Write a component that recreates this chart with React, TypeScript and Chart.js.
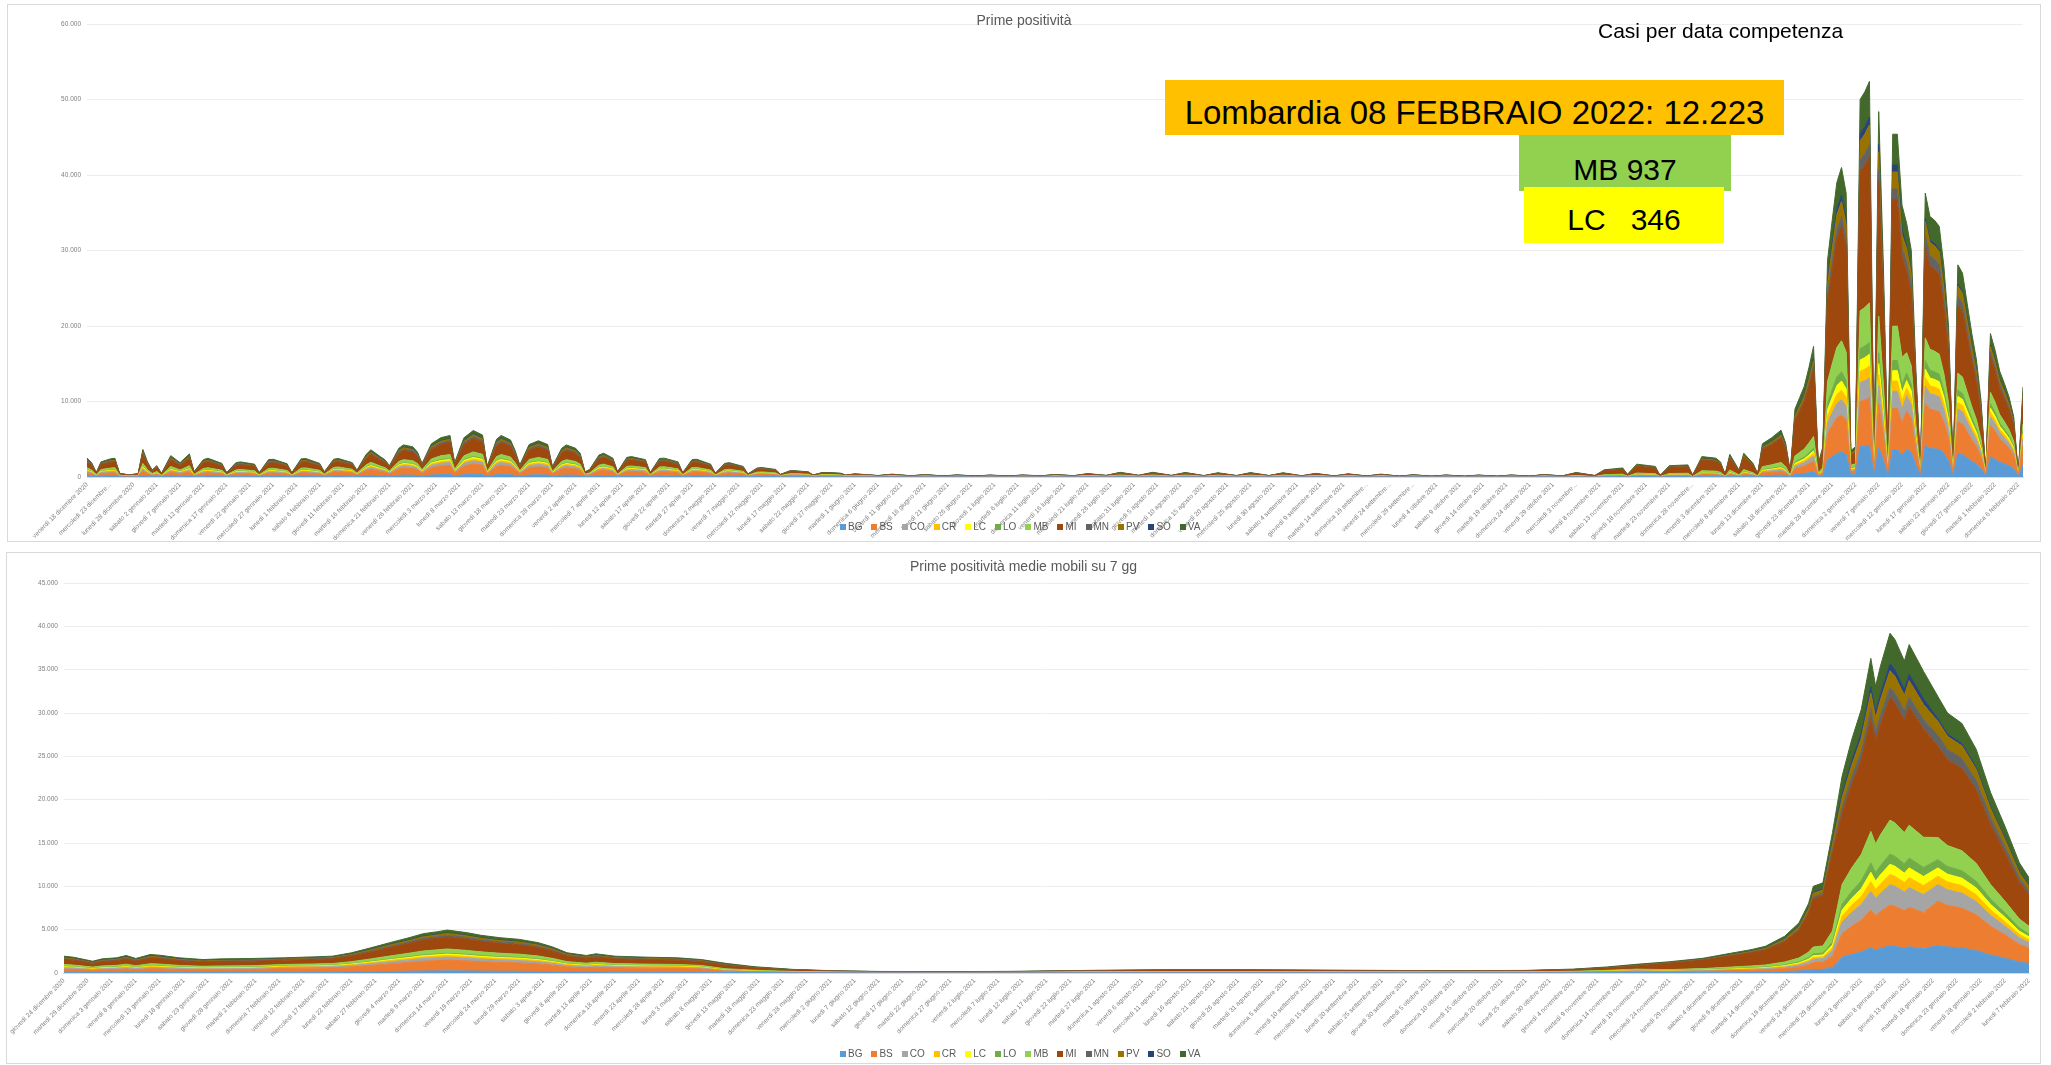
import { useEffect, useRef } from "react";
import { Chart, registerables } from "chart.js";
Chart.register(...registerables);

const PROVINCES = ["BG", "BS", "CO", "CR", "LC", "LO", "MB", "MI", "MN", "PV", "SO", "VA"];
const COLORS = ["#5B9BD5", "#ED7D31", "#A5A5A5", "#FFC000", "#FFFF00", "#70AD47", "#92D050", "#9E480E", "#636363", "#997300", "#264478", "#43682B"];

// ---------- "Prime positività" (daily, day index from venerdì 18 dicembre 2020) ----------
const TOP_DAYS = [
  0,1,2,3,5,6,7,9,11,12,13,14,15,16,18,20,22,23,25,26,29,30,32,33,36,37,39,40,43,44,46,47,50,
  51,53,54,57,58,60,61,63,64,65,67,68,70,71,72,74,76,78,79,81,83,85,86,88,89,91,92,93,95,97,99,100,102,103,105,106,107,108,110,111,113,114,116,117,120,121,123,124,127,128,130,131,134,135,137,138,141,142,144,145,148,149,151,152,155,156,158,159,162,163,165,
  170,173,177,180,184,187,191,194,198,201,205,208,212,215,219,222,226,229,233,236,240,243,247,250,254,257,261,264,268,271,275,278,282,285,289,292,296,299,303,306,310,313,317,
  320,324,326,330,331,333,337,338,340,344,345,347,350,351,352,353,355,356,358,359,360,362,364,365,366,367,368,369,370,371,372,373,
  374,375,376,377,378,379,380,381,382,383,384,385,386,387,388,389,390,
  391,392,393,394,395,396,397,398,399,400,401,402,403,404,405,406,407,
  408,409,410,411,412,413,414,415,416,
];
const TOP_BG = [
  125,95,30,100,120,124,25,14,22,182,100,46,75,24,141,95,152,35,115,124,90,29,95,100,85,29,115,117,87,29,120,122,90,
  42,141,147,114,54,180,216,162,138,90,228,255,240,198,108,264,312,330,114,312,369,333,84,300,330,294,210,96,258,288,258,84,228,255,228,186,42,60,174,189,150,42,156,162,138,35,147,150,120,35,138,141,102,30,108,114,84,24,72,75,60,21,49,50,41,16,36,36,30,15,25,
  12,23,10,19,9,17,8,16,8,16,10,20,11,27,13,37,14,37,13,36,11,34,12,35,12,34,10,29,9,25,8,23,7,18,7,16,7,16,7,16,7,20,9,
  24,8,38,48,14,68,56,8,60,64,10,108,100,80,14,120,36,126,72,18,176,208,248,180,26,360,420,480,580,692,72,160,
  2296,2720,3120,3280,3008,280,320,4000,4080,4192,144,3872,2240,144,3632,3632,2880,
  3696,3300,1540,99,4136,3795,3740,3652,3069,2200,99,3091,2970,2530,2090,1705,1100,
  62,2660,2352,1960,1736,1484,1120,35,1673,
];
const TOP_BS = [
  425,323,102,340,408,422,85,48,77,621,340,158,255,83,481,323,519,119,391,422,306,99,323,340,289,99,391,400,298,99,408,417,306,
  154,517,539,418,198,660,792,594,506,330,836,935,880,726,396,968,1144,1210,418,1144,1353,1221,308,1100,1210,1078,770,352,946,1056,946,308,836,935,836,682,154,220,638,693,550,154,572,594,506,128,539,550,440,128,506,517,374,110,396,418,308,88,264,275,220,77,180,185,150,59,132,132,110,55,92,
  26,49,22,42,20,36,18,34,18,35,21,44,23,59,29,81,30,81,29,78,25,73,26,75,26,73,22,62,20,55,18,49,16,39,14,35,14,34,14,35,16,43,20,
  48,16,76,96,28,136,112,16,120,128,20,216,200,160,28,240,72,252,144,36,352,416,496,360,52,720,840,960,1160,1384,144,320,
  3444,4080,4680,4920,4512,420,480,6000,6120,6288,216,5808,3360,216,5448,5448,4320,
  5040,4500,2100,135,5640,5175,5100,4980,4185,3000,135,4215,4050,3450,2850,2325,1500,
  97,4180,3696,3080,2728,2332,1760,55,2629,
];
const TOP_CO = [
  175,133,42,140,168,174,35,20,32,256,140,65,105,34,198,133,214,49,161,174,126,41,133,140,119,41,161,165,123,41,168,172,126,
  49,165,172,133,63,210,252,189,161,105,266,298,280,231,126,308,364,385,133,364,431,389,98,350,385,343,245,112,301,336,301,98,266,298,266,217,49,70,203,221,175,49,182,189,161,41,172,175,140,41,161,165,119,35,126,133,98,28,84,88,70,25,57,59,48,19,42,42,35,18,29,
  12,23,10,19,9,17,8,16,8,16,10,20,11,27,13,37,14,37,13,36,11,34,12,35,12,34,10,29,9,25,8,23,7,18,7,16,7,16,7,16,7,20,9,
  24,8,38,48,14,68,56,8,60,64,10,108,100,80,14,120,36,126,72,18,176,208,248,180,26,360,420,480,580,692,72,160,
  1435,1700,1950,2050,1880,175,200,2500,2550,2620,90,2420,1400,90,2270,2270,1800,
  2016,1800,840,54,2256,2070,2040,1992,1674,1200,54,1686,1620,1380,1140,930,600,
  26,1140,1008,840,744,636,480,15,717,
];
const TOP_CR = [
  100,76,24,80,96,99,20,11,18,146,80,37,60,20,113,76,122,28,92,99,72,23,76,80,68,23,92,94,70,23,96,98,72,
  28,94,98,76,36,120,144,108,92,60,152,170,160,132,72,176,208,220,76,208,246,222,56,200,220,196,140,64,172,192,172,56,152,170,152,124,28,40,116,126,100,28,104,108,92,23,98,100,80,23,92,94,68,20,72,76,56,16,48,50,40,14,33,34,27,11,24,24,20,10,17,
  6,11,5,10,5,8,4,8,4,8,5,10,5,14,7,19,7,19,7,18,6,17,6,17,6,17,5,14,5,13,4,11,4,9,3,8,3,8,3,8,4,10,5,
  12,4,19,24,7,34,28,4,30,32,5,54,50,40,7,60,18,63,36,9,88,104,124,90,13,180,210,240,290,346,36,80,
  861,1020,1170,1230,1128,105,120,1500,1530,1572,54,1452,840,54,1362,1362,1080,
  1008,900,420,27,1128,1035,1020,996,837,600,27,843,810,690,570,465,300,
  13,570,504,420,372,318,240,8,359,
];
const TOP_LC = [
  75,57,18,60,72,74,15,8,14,110,60,28,45,15,85,57,92,21,69,74,54,17,57,60,51,17,69,71,53,17,72,74,54,
  21,71,74,57,27,90,108,81,69,45,114,128,120,99,54,132,156,165,57,156,185,167,42,150,165,147,105,48,129,144,129,42,114,128,114,93,21,30,87,95,75,21,78,81,69,17,74,75,60,17,69,71,51,15,54,57,42,12,36,38,30,11,25,25,20,8,18,18,15,8,13,
  6,11,5,10,5,8,4,8,4,8,5,10,5,14,7,19,7,19,7,18,6,17,6,17,6,17,5,14,5,13,4,11,4,9,3,8,3,8,3,8,4,10,5,
  12,4,19,24,7,34,28,4,30,32,5,54,50,40,7,60,18,63,36,9,88,104,124,90,13,180,210,240,290,346,36,80,
  861,1020,1170,1230,1128,105,120,1500,1530,1572,54,1452,840,54,1362,1362,1080,
  1008,900,420,27,1128,1035,1020,996,837,600,27,843,810,690,570,465,300,
  13,570,504,420,372,318,240,8,346,
];
const TOP_LO = [
  50,38,12,40,48,50,10,6,9,73,40,19,30,10,57,38,61,14,46,50,36,12,38,40,34,12,46,47,35,12,48,49,36,
  14,47,49,38,18,60,72,54,46,30,76,85,80,66,36,88,104,110,38,104,123,111,28,100,110,98,70,32,86,96,86,28,76,85,76,62,14,20,58,63,50,14,52,54,46,12,49,50,40,12,46,47,34,10,36,38,28,8,24,25,20,7,16,17,14,5,12,12,10,5,8,
  4,8,3,6,3,6,3,5,3,5,3,7,4,9,4,12,5,12,4,12,4,11,4,12,4,11,3,10,3,8,3,8,2,6,2,5,2,5,2,5,2,7,3,
  12,4,19,24,7,34,28,4,30,32,5,54,50,40,7,60,18,63,36,9,88,104,124,90,13,180,210,240,290,346,36,80,
  861,1020,1170,1230,1128,105,120,1500,1530,1572,54,1452,840,54,1362,1362,1080,
  1008,900,420,27,1128,1035,1020,996,837,600,27,843,810,690,570,465,300,
  13,570,504,420,372,318,240,8,359,
];
const TOP_MB = [
  275,209,66,220,264,273,55,31,50,402,220,102,165,54,311,209,336,77,253,273,198,64,209,220,187,64,253,259,193,64,264,270,198,
  70,235,245,190,90,300,360,270,230,150,380,425,400,330,180,440,520,550,190,520,615,555,140,500,550,490,350,160,430,480,430,140,380,425,380,310,70,100,290,315,250,70,260,270,230,58,245,250,200,58,230,235,170,50,180,190,140,40,120,125,100,35,82,84,68,27,60,60,50,25,42,
  22,42,19,35,17,31,15,29,15,30,18,37,20,50,24,68,25,68,24,66,21,62,22,64,22,62,19,53,17,46,15,42,13,33,12,30,12,29,12,30,13,36,17,
  54,18,86,108,32,153,126,18,135,144,23,243,225,180,32,270,81,284,162,41,396,468,558,405,59,810,945,1080,1305,1557,162,360,
  2870,3400,3900,4100,3760,350,400,5000,5100,5240,180,4840,2800,180,4540,4540,3600,
  2688,2400,1120,72,3008,2760,2720,2656,2232,1600,72,2248,2160,1840,1520,1240,800,
  35,1520,1344,1120,992,848,640,20,937,
];
const TOP_MI = [
  800,608,192,640,768,794,160,90,144,1168,640,298,480,157,906,608,976,224,736,794,576,186,608,640,544,186,736,752,560,186,768,784,576,
  203,682,711,551,261,870,1044,783,667,435,1102,1233,1160,957,522,1276,1508,1595,551,1508,1784,1610,406,1450,1595,1421,1015,464,1247,1392,1247,406,1102,1233,1102,899,203,290,841,914,725,203,754,783,667,168,711,725,580,168,667,682,493,145,522,551,406,116,348,363,290,102,238,244,197,78,174,174,145,73,122,
  68,129,58,109,51,95,48,88,48,92,54,116,61,153,75,211,78,211,75,204,65,190,68,197,68,190,58,163,51,143,48,129,41,102,37,92,37,88,37,92,41,112,51,
  312,104,494,624,182,884,728,104,780,832,130,1404,1300,1040,182,1560,468,1638,936,234,2288,2704,3224,2340,338,4680,5460,6240,7540,8996,936,2080,
  10619,12580,14430,15170,13912,1295,1480,18500,18870,19388,666,17908,10360,666,16798,16798,13320,
  10752,9600,4480,288,12032,11040,10880,10624,8928,6400,288,8992,8640,7360,6080,4960,3200,
  110,4750,4200,3500,3100,2650,2000,63,2988,
];
const TOP_MN = [
  100,76,24,80,96,99,20,11,18,146,80,37,60,20,113,76,122,28,92,99,72,23,76,80,68,23,92,94,70,23,96,98,72,
  28,94,98,76,36,120,144,108,92,60,152,170,160,132,72,176,208,220,76,208,246,222,56,200,220,196,140,64,172,192,172,56,152,170,152,124,28,40,116,126,100,28,104,108,92,23,98,100,80,23,92,94,68,20,72,76,56,16,48,50,40,14,33,34,27,11,24,24,20,10,17,
  8,15,7,13,6,11,6,10,6,11,6,14,7,18,9,25,9,25,9,24,8,22,8,23,8,22,7,19,6,17,6,15,5,12,4,11,4,10,4,11,5,13,6,
  12,4,19,24,7,34,28,4,30,32,5,54,50,40,7,60,18,63,36,9,88,104,124,90,13,180,210,240,290,346,36,80,
  861,1020,1170,1230,1128,105,120,1500,1530,1572,54,1452,840,54,1362,1362,1080,
  1344,1200,560,36,1504,1380,1360,1328,1116,800,36,1124,1080,920,760,620,400,
  13,570,504,420,372,318,240,8,359,
];
const TOP_PV = [
  125,95,30,100,120,124,25,14,22,182,100,46,75,24,141,95,152,35,115,124,90,29,95,100,85,29,115,117,87,29,120,122,90,
  28,94,98,76,36,120,144,108,92,60,152,170,160,132,72,176,208,220,76,208,246,222,56,200,220,196,140,64,172,192,172,56,152,170,152,124,28,40,116,126,100,28,104,108,92,23,98,100,80,23,92,94,68,20,72,76,56,16,48,50,40,14,33,34,27,11,24,24,20,10,17,
  12,23,10,19,9,17,8,16,8,16,10,20,11,27,13,37,14,37,13,36,11,34,12,35,12,34,10,29,9,25,8,23,7,18,7,16,7,16,7,16,7,20,9,
  24,8,38,48,14,68,56,8,60,64,10,108,100,80,14,120,36,126,72,18,176,208,248,180,26,360,420,480,580,692,72,160,
  1435,1700,1950,2050,1880,175,200,2500,2550,2620,90,2420,1400,90,2270,2270,1800,
  1680,1500,700,45,1880,1725,1700,1660,1395,1000,45,1405,1350,1150,950,775,500,
  18,760,672,560,496,424,320,10,478,
];
const TOP_SO = [
  50,38,12,40,48,50,10,6,9,73,40,19,30,10,57,38,61,14,46,50,36,12,38,40,34,12,46,47,35,12,48,49,36,
  7,24,25,19,9,30,36,27,23,15,38,43,40,33,18,44,52,55,19,52,62,56,14,50,55,49,35,16,43,48,43,14,38,43,38,31,7,10,29,32,25,7,26,27,23,6,25,25,20,6,23,24,17,5,18,19,14,4,12,13,10,4,8,8,7,3,6,6,5,3,4,
  4,8,3,6,3,6,3,5,3,5,3,7,4,9,4,12,5,12,4,12,4,11,4,12,4,11,3,10,3,8,3,8,2,6,2,5,2,5,2,5,2,7,3,
  6,2,10,12,4,17,14,2,15,16,3,27,25,20,4,30,9,32,18,5,44,52,62,45,7,90,105,120,145,173,18,40,
  574,680,780,820,752,70,80,1000,1020,1048,36,968,560,36,908,908,720,
  336,300,140,9,376,345,340,332,279,200,9,281,270,230,190,155,100,
  4,190,168,140,124,106,80,3,120,
];
const TOP_VA = [
  200,152,48,160,192,198,40,22,36,292,160,74,120,39,226,152,244,56,184,198,144,46,152,160,136,46,184,188,140,46,192,196,144,
  56,188,196,152,72,240,288,216,184,120,304,340,320,264,144,352,416,440,152,416,492,444,112,400,440,392,280,128,344,384,344,112,304,340,304,248,56,80,232,252,200,56,208,216,184,46,196,200,160,46,184,188,136,40,144,152,112,32,96,100,80,28,66,67,54,22,48,48,40,20,34,
  20,38,17,32,15,28,14,26,14,27,16,34,18,45,22,62,23,62,22,60,19,56,20,58,20,56,17,48,15,42,14,38,12,30,11,27,11,26,11,27,12,33,15,
  60,20,95,120,35,170,140,20,150,160,25,270,250,200,35,300,90,315,180,45,440,520,620,450,65,900,1050,1200,1450,1730,180,400,
  2583,3060,3510,3690,3384,315,360,4500,4590,4716,162,4356,2520,162,4086,4086,3240,
  3024,2700,1260,81,3384,3105,3060,2988,2511,1800,81,2529,2430,2070,1710,1395,900,
  35,1520,1344,1120,992,848,640,20,956,
];
const TOP_TICK_LABELS = [
  "venerdì 18 dicembre 2020","mercoledì 23 dicembre...","lunedì 28 dicembre 2020","sabato 2 gennaio 2021","giovedì 7 gennaio 2021",
  "martedì 12 gennaio 2021","domenica 17 gennaio 2021","venerdì 22 gennaio 2021","mercoledì 27 gennaio 2021","lunedì 1 febbraio 2021",
  "sabato 6 febbraio 2021","giovedì 11 febbraio 2021","martedì 16 febbraio 2021","domenica 21 febbraio 2021","venerdì 26 febbraio 2021",
  "mercoledì 3 marzo 2021","lunedì 8 marzo 2021","sabato 13 marzo 2021","giovedì 18 marzo 2021","martedì 23 marzo 2021",
  "domenica 28 marzo 2021","venerdì 2 aprile 2021","mercoledì 7 aprile 2021","lunedì 12 aprile 2021","sabato 17 aprile 2021",
  "giovedì 22 aprile 2021","martedì 27 aprile 2021","domenica 2 maggio 2021","venerdì 7 maggio 2021","mercoledì 12 maggio 2021",
  "lunedì 17 maggio 2021","sabato 22 maggio 2021","giovedì 27 maggio 2021","martedì 1 giugno 2021","domenica 6 giugno 2021",
  "venerdì 11 giugno 2021","mercoledì 16 giugno 2021","lunedì 21 giugno 2021","sabato 26 giugno 2021","giovedì 1 luglio 2021",
  "martedì 6 luglio 2021","domenica 11 luglio 2021","venerdì 16 luglio 2021","mercoledì 21 luglio 2021","lunedì 26 luglio 2021",
  "sabato 31 luglio 2021","giovedì 5 agosto 2021","martedì 10 agosto 2021","domenica 15 agosto 2021","venerdì 20 agosto 2021",
  "mercoledì 25 agosto 2021","lunedì 30 agosto 2021","sabato 4 settembre 2021","giovedì 9 settembre 2021","martedì 14 settembre 2021",
  "domenica 19 settembre...","venerdì 24 settembre...","mercoledì 29 settembre...","lunedì 4 ottobre 2021","sabato 9 ottobre 2021",
  "giovedì 14 ottobre 2021","martedì 19 ottobre 2021","domenica 24 ottobre 2021","venerdì 29 ottobre 2021","mercoledì 3 novembre...",
  "lunedì 8 novembre 2021","sabato 13 novembre 2021","giovedì 18 novembre 2021","martedì 23 novembre 2021","domenica 28 novembre...",
  "venerdì 3 dicembre 2021","mercoledì 8 dicembre 2021","lunedì 13 dicembre 2021","sabato 18 dicembre 2021","giovedì 23 dicembre 2021",
  "martedì 28 dicembre 2021","domenica 2 gennaio 2022","venerdì 7 gennaio 2022","mercoledì 12 gennaio 2022","lunedì 17 gennaio 2022",
  "sabato 22 gennaio 2022","giovedì 27 gennaio 2022","martedì 1 febbraio 2022","domenica 6 febbraio 2022",
];

// ---------- "Prime positività medie mobili su 7 gg" (day index from giovedì 24 dicembre 2020) ----------
const BOT_DAYS = [
  0,2,6,8,11,13,15,18,20,24,29,33,39,
  46,52,56,60,64,68,72,75,78,80,84,87,91,95,99,102,105,109,111,115,122,128,133,
  138,144,152,161,170,185,200,215,230,245,260,275,290,305,315,322,328,
  335,342,348,352,355,359,362,364,365,367,369,
  371,373,375,377,378,379,381,382,384,385,388,
  391,393,396,399,402,405,408,410,
];
const BOT_BG = [
  97,91,68,82,88,101,84,107,103,88,78,82,84,
  88,93,97,117,145,175,204,227,239,248,233,218,204,194,175,150,117,101,111,97,91,88,78,
  67,44,25,15,11,9,12,19,23,23,20,18,16,18,27,42,60,
  52,68,92,108,123,169,231,320,400,416,648,
  1816,2152,2432,2904,2648,2832,3136,3080,2880,3032,2784,
  3190,3000,2880,2580,2080,1690,1270,1100,
];
const BOT_BS = [
  349,328,245,293,315,364,301,383,369,315,279,293,301,
  438,465,485,583,725,875,1018,1135,1193,1238,1165,1088,1018,970,875,750,583,505,553,485,455,438,388,
  146,95,55,33,23,20,26,40,49,49,44,39,34,39,59,91,130,
  104,136,184,215,246,338,462,640,800,832,1296,
  2724,3228,3648,4356,3972,4248,4704,4620,4320,4548,4176,
  5104,4800,4608,4128,3328,2704,2032,1760,
];
const BOT_CO = [
  136,127,95,114,123,141,117,149,144,123,109,114,117,
  123,130,136,163,203,245,285,318,334,347,326,305,285,272,245,210,163,141,155,136,127,123,109,
  67,44,25,15,11,9,12,19,23,23,20,18,16,18,27,42,60,
  52,68,92,108,123,169,231,320,400,416,648,
  1362,1614,1824,2178,1986,2124,2352,2310,2160,2274,2088,
  1914,1800,1728,1548,1248,1014,762,660,
];
const BOT_CR = [
  78,73,54,65,70,81,67,85,82,70,62,65,67,
  70,74,78,93,116,140,163,182,191,198,186,174,163,155,140,120,93,81,88,78,73,70,62,
  34,22,13,8,5,5,6,9,11,11,10,9,8,9,14,21,30,
  26,34,46,54,62,85,115,160,200,208,324,
  681,807,912,1089,993,1062,1176,1155,1080,1137,1044,
  957,900,864,774,624,507,381,330,
];
const BOT_LC = [
  58,55,41,49,53,61,50,64,62,53,47,49,50,
  53,56,58,70,87,105,122,136,143,149,140,131,122,116,105,90,70,61,66,58,55,53,47,
  34,22,13,8,5,5,6,9,11,11,10,9,8,9,14,21,30,
  26,34,46,54,62,85,115,160,200,208,324,
  681,807,912,1089,993,1062,1176,1155,1080,1137,1044,
  957,900,864,774,624,507,381,330,
];
const BOT_LO = [
  39,36,27,33,35,40,33,43,41,35,31,33,33,
  35,37,39,47,58,70,81,91,95,99,93,87,81,78,70,60,47,40,44,39,36,35,31,
  22,15,8,5,4,3,4,6,8,8,7,6,5,6,9,14,20,
  26,34,46,54,62,85,115,160,200,208,324,
  681,807,912,1089,993,1062,1176,1155,1080,1137,1044,
  957,900,864,774,624,507,381,330,
];
const BOT_MB = [
  213,200,150,179,193,222,184,234,226,193,171,179,184,
  175,186,194,233,290,350,407,454,477,495,466,435,407,388,350,300,233,202,221,194,182,175,155,
  123,80,46,28,20,17,22,34,42,42,37,33,29,33,50,77,110,
  104,136,184,215,246,338,462,640,800,832,1296,
  2270,2690,3040,3630,3310,3540,3920,3850,3600,3790,3480,
  2552,2400,2304,2064,1664,1352,1016,880,
];
const BOT_MI = [
  601,564,422,505,543,626,518,660,636,543,481,505,518,
  490,521,543,652,812,980,1140,1271,1336,1386,1305,1218,1140,1086,980,840,652,566,619,543,510,490,434,
  381,248,143,85,61,51,68,105,129,129,116,102,88,102,153,238,340,
  728,952,1288,1506,1725,2369,3231,4480,5600,5824,9072,
  8172,9684,10944,13068,11916,12744,14112,13860,12960,13644,12528,
  10527,9900,9504,8514,6864,5577,4191,3630,
];
const BOT_MN = [
  78,73,54,65,70,81,67,85,82,70,62,65,67,
  70,74,78,93,116,140,163,182,191,198,186,174,163,155,140,120,93,81,88,78,73,70,62,
  45,29,17,10,7,6,8,12,15,15,14,12,10,12,18,28,40,
  26,34,46,54,62,85,115,160,200,208,324,
  681,807,912,1089,993,1062,1176,1155,1080,1137,1044,
  1276,1200,1152,1032,832,676,508,440,
];
const BOT_PV = [
  97,91,68,82,88,101,84,107,103,88,78,82,84,
  70,74,78,93,116,140,163,182,191,198,186,174,163,155,140,120,93,81,88,78,73,70,62,
  67,44,25,15,11,9,12,19,23,23,20,18,16,18,27,42,60,
  52,68,92,108,123,169,231,320,400,416,648,
  1135,1345,1520,1815,1655,1770,1960,1925,1800,1895,1740,
  1595,1500,1440,1290,1040,845,635,550,
];
const BOT_SO = [
  39,36,27,33,35,40,33,43,41,35,31,33,33,
  18,19,19,23,29,35,41,45,48,50,47,44,41,39,35,30,23,20,22,19,18,18,16,
  22,15,8,5,4,3,4,6,8,8,7,6,5,6,9,14,20,
  13,17,23,27,31,42,58,80,100,104,162,
  454,538,608,726,662,708,784,770,720,758,696,
  319,300,288,258,208,169,127,110,
];
const BOT_VA = [
  155,146,109,130,140,162,134,170,164,140,124,130,134,
  123,130,136,163,203,245,285,318,334,347,326,305,285,272,245,210,163,141,155,136,127,123,109,
  112,73,42,25,18,15,20,31,38,38,34,30,26,30,45,70,100,
  91,119,161,188,216,296,404,560,700,728,1134,
  2043,2421,2736,3267,2979,3186,3528,3465,3240,3411,3132,
  2552,2400,2304,2064,1664,1352,1016,880,
];
const BOT_TICK_LABELS = [
  "giovedì 24 dicembre 2020","martedì 29 dicembre 2020","domenica 3 gennaio 2021","venerdì 8 gennaio 2021","mercoledì 13 gennaio 2021",
  "lunedì 18 gennaio 2021","sabato 23 gennaio 2021","giovedì 28 gennaio 2021","martedì 2 febbraio 2021","domenica 7 febbraio 2021",
  "venerdì 12 febbraio 2021","mercoledì 17 febbraio 2021","lunedì 22 febbraio 2021","sabato 27 febbraio 2021","giovedì 4 marzo 2021",
  "martedì 9 marzo 2021","domenica 14 marzo 2021","venerdì 19 marzo 2021","mercoledì 24 marzo 2021","lunedì 29 marzo 2021",
  "sabato 3 aprile 2021","giovedì 8 aprile 2021","martedì 13 aprile 2021","domenica 18 aprile 2021","venerdì 23 aprile 2021",
  "mercoledì 28 aprile 2021","lunedì 3 maggio 2021","sabato 8 maggio 2021","giovedì 13 maggio 2021","martedì 18 maggio 2021",
  "domenica 23 maggio 2021","venerdì 28 maggio 2021","mercoledì 2 giugno 2021","lunedì 7 giugno 2021","sabato 12 giugno 2021",
  "giovedì 17 giugno 2021","martedì 22 giugno 2021","domenica 27 giugno 2021","venerdì 2 luglio 2021","mercoledì 7 luglio 2021",
  "lunedì 12 luglio 2021","sabato 17 luglio 2021","giovedì 22 luglio 2021","martedì 27 luglio 2021","domenica 1 agosto 2021",
  "venerdì 6 agosto 2021","mercoledì 11 agosto 2021","lunedì 16 agosto 2021","sabato 21 agosto 2021","giovedì 26 agosto 2021",
  "martedì 31 agosto 2021","domenica 5 settembre 2021","venerdì 10 settembre 2021","mercoledì 15 settembre 2021","lunedì 20 settembre 2021",
  "sabato 25 settembre 2021","giovedì 30 settembre 2021","martedì 5 ottobre 2021","domenica 10 ottobre 2021","venerdì 15 ottobre 2021",
  "mercoledì 20 ottobre 2021","lunedì 25 ottobre 2021","sabato 30 ottobre 2021","giovedì 4 novembre 2021","martedì 9 novembre 2021",
  "domenica 14 novembre 2021","venerdì 19 novembre 2021","mercoledì 24 novembre 2021","lunedì 29 novembre 2021","sabato 4 dicembre 2021",
  "giovedì 9 dicembre 2021","martedì 14 dicembre 2021","domenica 19 dicembre 2021","venerdì 24 dicembre 2021","mercoledì 29 dicembre 2021",
  "lunedì 3 gennaio 2022","sabato 8 gennaio 2022","giovedì 13 gennaio 2022","martedì 18 gennaio 2022","domenica 23 gennaio 2022",
  "venerdì 28 gennaio 2022","mercoledì 2 febbraio 2022","lunedì 7 febbraio 2022",
];

const TOP_SERIES = [TOP_BG, TOP_BS, TOP_CO, TOP_CR, TOP_LC, TOP_LO, TOP_MB, TOP_MI, TOP_MN, TOP_PV, TOP_SO, TOP_VA];
const BOT_SERIES = [BOT_BG, BOT_BS, BOT_CO, BOT_CR, BOT_LC, BOT_LO, BOT_MB, BOT_MI, BOT_MN, BOT_PV, BOT_SO, BOT_VA];

const FONT = "'Liberation Sans', Arial, sans-serif";
const fmt = (v: number) => String(Math.round(v)).replace(/\B(?=(\d{3})+(?!\d))/g, ".");

type Props = {
  days: number[];
  series: number[][];
  tickLabels: string[];
  xMax: number;
  yMax: number;
  yStep: number;
  left: number;
  top: number;
  width: number;
  height: number;
  yWidth: number;
  xHeight: number;
  padTop: number;
  padRight: number;
};

function StackedArea(p: Props) {
  const ref = useRef<HTMLCanvasElement>(null);
  useEffect(() => {
    const chart = new Chart(ref.current!, {
      type: "line",
      data: {
        datasets: PROVINCES.map((name, k) => ({
          label: name,
          data: p.days.map((d, i) => ({ x: d, y: p.series[k][i] })),
          backgroundColor: COLORS[k],
          borderColor: COLORS[k],
          borderWidth: 1,
          pointRadius: 0,
          tension: 0,
          fill: k === 0 ? "origin" : "-1",
        })),
      },
      options: {
        animation: false,
        responsive: false,
        maintainAspectRatio: false,
        devicePixelRatio: 1,
        layout: { padding: { left: 0, top: p.padTop, right: p.padRight, bottom: 0 } },
        plugins: { legend: { display: false }, tooltip: { enabled: false }, title: { display: false } },
        scales: {
          x: {
            type: "linear",
            min: 0,
            max: p.xMax,
            grid: { display: false, drawTicks: false },
            border: { display: true, color: "#D9D9D9" },
            ticks: {
              autoSkip: false,
              minRotation: 45,
              maxRotation: 45,
              padding: 4,
              color: "#7F7F7F",
              font: { size: 6.5, family: FONT },
              callback: (_v: any, i: number) => p.tickLabels[i],
            },
            afterBuildTicks: (axis: any) => {
              axis.ticks = p.tickLabels.map((_l, k) => ({ value: k * 5 }));
            },
            afterFit: (axis: any) => {
              axis.height = p.xHeight;
            },
          },
          y: {
            stacked: true,
            min: 0,
            max: p.yMax,
            grid: { color: "#EDEDED", drawTicks: false },
            border: { display: false },
            ticks: {
              stepSize: p.yStep,
              padding: 6,
              color: "#7F7F7F",
              font: { size: 6.5, family: FONT },
              callback: (v: any) => fmt(Number(v)),
            },
            afterFit: (axis: any) => {
              axis.width = p.yWidth;
            },
          },
        },
      },
    } as any);
    return () => chart.destroy();
  }, []);
  return (
    <canvas
      ref={ref}
      width={p.width}
      height={p.height}
      style={{ position: "absolute", left: p.left, top: p.top, width: p.width, height: p.height }}
    />
  );
}

function Legend({ left, top }: { left: number; top: number }) {
  return (
    <div style={{ position: "absolute", left, top, display: "flex", gap: 9, fontFamily: FONT, fontSize: 10, color: "#595959", lineHeight: "12px" }}>
      {PROVINCES.map((name, k) => (
        <div key={name} style={{ display: "flex", alignItems: "center", gap: 2 }}>
          <span style={{ display: "inline-block", width: 6, height: 6, background: COLORS[k] }} />
          <span>{name}</span>
        </div>
      ))}
    </div>
  );
}

const box = (left: number, top: number, w: number, h: number) => ({
  position: "absolute" as const,
  left,
  top,
  width: w,
  height: h,
  border: "1px solid #D9D9D9",
  boxSizing: "border-box" as const,
  pointerEvents: "none" as const,
});

const note = (left: number, top: number, w: number, h: number, bg: string, size: number, padTop: number) => ({
  position: "absolute" as const,
  left,
  top,
  width: w,
  height: h,
  background: bg,
  boxSizing: "border-box" as const,
  paddingTop: padTop,
  display: "flex",
  alignItems: "center",
  justifyContent: "center",
  fontSize: size,
  color: "#000",
  whiteSpace: "pre" as const,
});

export default function App() {
  return (
    <div style={{ position: "fixed", left: 0, top: 0, width: 2051, height: 1065, background: "#fff", overflow: "hidden", fontFamily: FONT }}>
      <StackedArea
        days={TOP_DAYS}
        series={TOP_SERIES}
        tickLabels={TOP_TICK_LABELS}
        xMax={416}
        yMax={60000}
        yStep={10000}
        left={8}
        top={5}
        width={2032}
        height={536}
        yWidth={79}
        xHeight={64}
        padTop={19}
        padRight={17}
      />
      <StackedArea
        days={BOT_DAYS}
        series={BOT_SERIES}
        tickLabels={BOT_TICK_LABELS}
        xMax={410}
        yMax={45000}
        yStep={5000}
        left={7}
        top={553}
        width={2033}
        height={510}
        yWidth={56}
        xHeight={90}
        padTop={30}
        padRight={11}
      />
      <div style={box(7, 4, 2034, 538)} />
      <div style={box(6, 552, 2035, 512)} />

      <div style={{ position: "absolute", left: 7, top: 12, width: 2034, textAlign: "center", fontSize: 14, lineHeight: "16px", color: "#595959" }}>
        Prime positività
      </div>
      <div style={{ position: "absolute", left: 6, top: 558, width: 2035, textAlign: "center", fontSize: 14, lineHeight: "16px", color: "#595959" }}>
        Prime positività medie mobili su 7 gg
      </div>
      <div style={{ position: "absolute", left: 1598, top: 19, fontSize: 21, lineHeight: "24px", color: "#000" }}>
        Casi per data competenza
      </div>

      <Legend left={840} top={521} />
      <Legend left={840} top={1048} />

      <div style={note(1165, 80, 619, 55, "#FFC000", 33, 10)}>Lombardia 08 FEBBRAIO 2022: 12.223</div>
      <div style={note(1519, 135, 212, 56, "#92D050", 30, 14)}>MB 937</div>
      <div style={note(1524, 187, 200, 56, "#FFFF00", 30, 10)}>{"LC   346"}</div>
    </div>
  );
}
